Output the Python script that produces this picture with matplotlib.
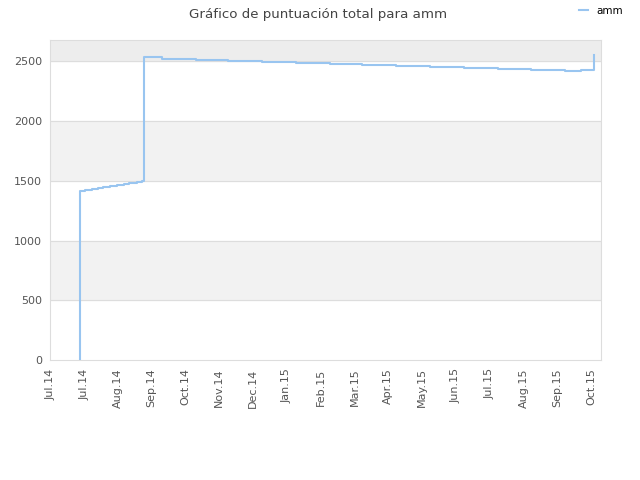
import pandas as pd
import matplotlib
matplotlib.use("Agg")
from matplotlib import pyplot as plt
import matplotlib.dates as mdates

# score history
dates = ["2014-07-27", "2014-07-27", "2014-08-01", "2014-08-07", "2014-08-12",
         "2014-08-17", "2014-08-23", "2014-08-29", "2014-09-04", "2014-09-09",
         "2014-09-16", "2014-09-20", "2014-09-22", "2014-10-08", "2014-11-07",
         "2014-12-06", "2015-01-05", "2015-02-04", "2015-03-06", "2015-04-04",
         "2015-05-04", "2015-06-03", "2015-07-03", "2015-08-02", "2015-09-01",
         "2015-10-01", "2015-10-15", "2015-10-27"]
scores = [0, 1414, 1423, 1431, 1440,
          1448, 1456, 1465, 1473, 1481,
          1490, 1498, 2533, 2521, 2513,
          2505, 2497, 2488, 2480, 2472,
          2464, 2455, 2447, 2439, 2428,
          2420, 2431, 2553]
series_name = "amm"
y_ticks = [0, 500, 1000, 1500, 2000, 2500]

x = pd.to_datetime(dates)

fig = plt.figure(figsize=(6.4, 4.8), dpi=100)
ax = fig.add_axes([50.3 / 640, 1 - 360 / 480, (601 - 50.3) / 640, 320 / 480])

ymax = 2678
# alternating bands
ax.axhspan(500, 1000, color="#f2f2f2", zorder=0)
ax.axhspan(1500, 2000, color="#f2f2f2", zorder=0)
ax.axhspan(2500, ymax, color="#ededed", zorder=0)
for yv in y_ticks[1:]:
    ax.axhline(yv, color="#dddddd", linewidth=0.8, zorder=1)

ax.plot(x, scores, drawstyle="steps-post", color="#99c5f0", linewidth=1.5,
        label=series_name, zorder=3)

ax.set_ylim(0, ymax)
ax.set_yticks(y_ticks)
start = pd.Timestamp("2014-07-01")
ax.set_xlim(start, start + pd.Timedelta(days=488.8))
ticks = pd.date_range(start, periods=17, freq="30D")
ax.set_xticks(ticks)
ax.xaxis.set_major_formatter(mdates.DateFormatter("%b.%y"))
plt.setp(ax.get_xticklabels(), rotation=90)
ax.tick_params(axis="both", length=0, labelsize=8, labelcolor="#555555", pad=6)

for s in ax.spines.values():
    s.set_color("#dddddd")

fig.suptitle("Gráfico de puntuación total para amm", x=0.497, y=0.983,
             fontsize=9.6, color="#444444")
fig.legend(loc="upper right", bbox_to_anchor=(0.988, 1.008), frameon=False,
           fontsize=7.5, handlelength=0.9, handletextpad=0.8)

fig.savefig("out.png", dpi=100)
